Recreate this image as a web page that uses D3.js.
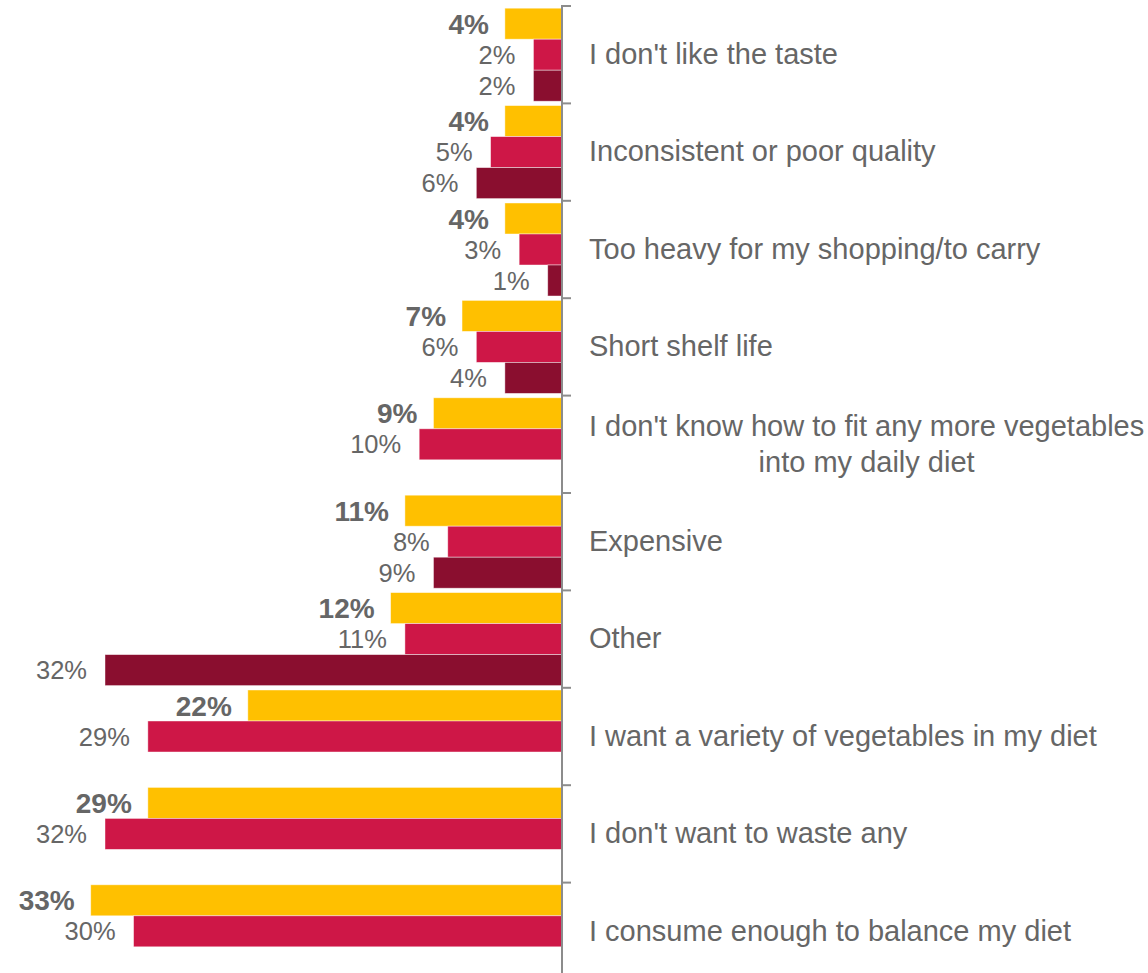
<!DOCTYPE html>
<html>
<head>
<meta charset="utf-8">
<script src="https://cdn.jsdelivr.net/npm/d3@7"></script>
<style>
  html, body { margin: 0; padding: 0; background: #fff; }
  svg { display: block; }
</style>
</head>
<body>
<svg id="chart" width="1148" height="973"></svg>
<script>
// Reasons given, one row per category (top to bottom)
const categories = [
  "I don't like the taste",
  "Inconsistent or poor quality",
  "Too heavy for my shopping/to carry",
  "Short shelf life",
  "I don't know how to fit any more vegetables\ninto my daily diet",
  "Expensive",
  "Other",
  "I want a variety of vegetables in my diet",
  "I don't want to waste any",
  "I consume enough to balance my diet"
];
const seriesNames = ["s1", "s2", "s3"];
// Percent values per series (null = not asked)
const series1 = [4, 4, 4, 7, 9, 11, 12, 22, 29, 33];
const series2 = [2, 5, 3, 6, 10, 8, 11, 29, 32, 30];
const series3 = [2, 6, 1, 4, null, 9, 32, null, null, null];
const seriesColors = ["#FFC000", "#CE1747", "#8A0E2F"];

const svg = d3.select("#chart");
const W = 1148, H = 973;
const axisX = 562;
const fontFam = "Arial, 'Liberation Sans', sans-serif";
const textColor = "#666666";

const values = [series1, series2, series3];

// bars grow leftwards from the axis
const x = d3.scaleLinear().domain([0, 32]).range([axisX, 105]);

const y = d3.scaleBand()
  .domain(categories)
  .range([6, 6 + 97.4 * categories.length])
  .paddingInner(0.045)
  .paddingOuter(0.0225);

const ySub = d3.scaleBand()
  .domain(seriesNames)
  .range([0, y.bandwidth()])
  .padding(0);

const rows = [];
categories.forEach((c, i) => {
  seriesNames.forEach((s, j) => {
    const v = values[j][i];
    if (v !== null && v !== undefined) rows.push({ cat: c, s, j, v });
  });
});

const g = svg.append("g");

g.selectAll("rect.bar")
  .data(rows)
  .join("rect")
  .attr("class", "bar")
  .attr("x", d => x(d.v))
  .attr("y", d => y(d.cat) + ySub(d.s))
  .attr("width", d => x(0) - x(d.v))
  .attr("height", ySub.bandwidth())
  .attr("fill", d => seriesColors[d.j])
  .attr("stroke", "#ffffff")
  .attr("stroke-opacity", 0.55)
  .attr("stroke-width", 0.8);

// value labels: the first series is bold and a little larger
const labelSize = d => d.j === 0 ? 28 : 25.5;
const labelGap = d => d.j === 0 ? 16 : 18;
g.selectAll("text.val")
  .data(rows)
  .join("text")
  .attr("class", "val")
  .attr("x", d => x(d.v) - labelGap(d))
  .attr("y", d => y(d.cat) + ySub(d.s) + ySub.bandwidth() / 2 + labelSize(d) * 0.358)
  .attr("text-anchor", "end")
  .attr("font-family", fontFam)
  .attr("font-size", labelSize)
  .attr("font-weight", d => d.j === 0 ? "bold" : "normal")
  .attr("fill", textColor)
  .text(d => d.v + "%");

// axis line and category boundary ticks
const axisColor = "#8C8C8C";
g.append("line")
  .attr("x1", axisX).attr("x2", axisX)
  .attr("y1", 5).attr("y2", H)
  .attr("stroke", axisColor)
  .attr("stroke-width", 2);

const bounds = d3.range(categories.length + 1).map(i => y.range()[0] + i * y.step());
g.selectAll("line.tick")
  .data(bounds)
  .join("line")
  .attr("class", "tick")
  .attr("x1", axisX).attr("x2", axisX + 9)
  .attr("y1", d => d).attr("y2", d => d)
  .attr("stroke", axisColor)
  .attr("stroke-width", 2);

// category labels to the right of the axis
const catSize = 29;
const labelX = 589;
const lineGap = 36;
categories.forEach(c => {
  const lines = c.split("\n");
  const cy = y(c) + y.bandwidth() / 2;
  const t = g.append("text")
    .attr("font-family", fontFam)
    .attr("font-size", catSize)
    .attr("fill", textColor);
  const first = cy - (lines.length - 1) * lineGap / 2;
  const tspans = lines.map((ln, k) =>
    t.append("tspan")
      .attr("x", labelX)
      .attr("y", first + k * lineGap + catSize * 0.358 - 1)
      .text(ln)
  );
  if (lines.length > 1) {
    const w0 = tspans[0].node().getComputedTextLength();
    const mid = labelX + w0 / 2;
    tspans.forEach(ts => ts.attr("x", mid).attr("text-anchor", "middle"));
  }
});
</script>
</body>
</html>
